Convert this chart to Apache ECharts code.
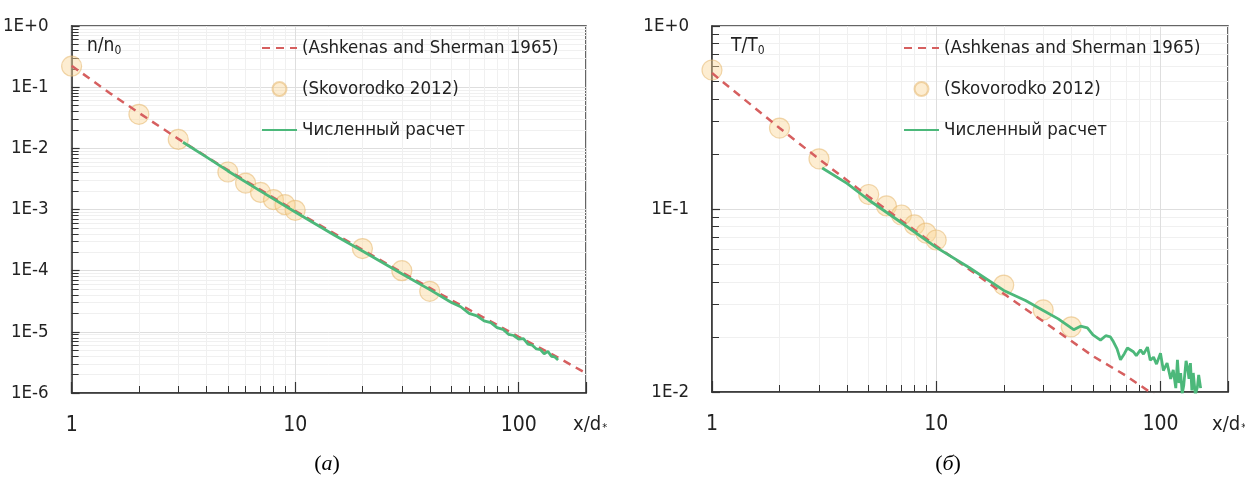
<!DOCTYPE html>
<html>
<head>
<meta charset="utf-8">
<script src="https://cdn.jsdelivr.net/npm/echarts@6/dist/echarts.min.js"></script>
<style>
html, body { margin: 0; padding: 0; background: #fff; }
#chart { width: 1245px; height: 482px; }
</style>
</head>
<body>
<div id="chart"></div>
<script>
// (а) density n/n0 along the jet axis
const nAshX = [1, 1.5, 2, 3, 5, 7, 10, 20, 30, 50, 70, 100, 150, 200]
const nAshY = [0.224, 0.0776, 0.038, 0.0143, 0.0044, 0.0021, 9.5e-4, 2.2e-4, 9.4e-5, 3.3e-5, 1.7e-5, 8.3e-6, 3.8e-6, 2.1e-6]
const nSkoX = [1, 2, 3, 5, 6, 7, 8, 9, 10, 20, 30, 40]
const nSkoY = [0.22, 0.036, 0.014, 0.0041, 0.0027, 0.0019, 0.00145, 0.0012, 0.00097, 0.00023, 1.0e-4, 4.6e-5]
const nNumX = [3.15, 4, 5, 7, 10, 15, 20, 30, 40, 50, 55, 60, 65, 70, 75, 80, 85, 90, 95, 100, 105, 110, 115, 120, 125, 130, 135, 140, 145, 150]
const nNumY = [1.26e-2, 7.24e-3, 4.27e-3, 2.0e-3, 9.12e-4, 3.8e-4, 2.09e-4, 8.91e-5, 4.9e-5, 3.02e-5, 2.57e-5, 2.0e-5, 1.82e-5, 1.51e-5, 1.41e-5, 1.17e-5, 1.1e-5, 9.12e-6, 8.71e-6, 7.59e-6, 7.76e-6, 6.31e-6, 6.03e-6, 5.25e-6, 5.13e-6, 4.37e-6, 4.79e-6, 3.98e-6, 3.89e-6, 3.47e-6]

// (б) temperature T/T0 along the jet axis
const tAshX = [1, 1.5, 2, 3, 5, 7, 10, 20, 30, 50, 70, 100]
const tAshY = [0.553, 0.369, 0.277, 0.1875, 0.1167, 0.0863, 0.0628, 0.0344, 0.0243, 0.0157, 0.0123, 0.00912]
const tSkoX = [1, 2, 3, 5, 6, 7, 8, 9, 10, 20, 30, 40]
const tSkoY = [0.575, 0.277, 0.188, 0.12, 0.104, 0.0927, 0.0818, 0.0739, 0.0677, 0.0384, 0.0281, 0.0227]
const tNumX = [3.1, 4, 5, 7, 10, 14, 20, 25, 30, 35, 41, 44, 47.2, 50, 54, 57, 59.8, 61.7, 64, 66.3, 69, 71.2, 75.7, 78, 81.4, 84, 87.5, 90, 93.1, 96, 100, 103, 107, 111, 114, 117, 119, 121, 123, 125, 127, 130, 132, 134, 136, 138, 140, 143, 146, 148, 151]
const tNumY = [0.1675, 0.138, 0.112, 0.0841, 0.0617, 0.0479, 0.0359, 0.0316, 0.0279, 0.0251, 0.0219, 0.0229, 0.0224, 0.0205, 0.0192, 0.0203, 0.02, 0.0188, 0.0172, 0.015, 0.0162, 0.0174, 0.0166, 0.0158, 0.017, 0.0161, 0.0176, 0.0149, 0.0155, 0.0142, 0.0163, 0.0131, 0.0144, 0.0118, 0.0132, 0.0105, 0.015, 0.0112, 0.0127, 0.0098, 0.0109, 0.0148, 0.0137, 0.0118, 0.0144, 0.0102, 0.0127, 0.0097, 0.0106, 0.0124, 0.0105]

const names = ['(Ashkenas and Sherman 1965)', '(Skovorodko 2012)', 'Численный расчет']
const FONT = "'DejaVu Sans Condensed', 'Liberation Sans Narrow', sans-serif"

const zip = (xs, ys) => xs.map((x, i) => [x, ys[i]])
const isPow10 = v => Math.abs(Math.log10(v) - Math.round(Math.log10(v))) < 1e-6

function xAxisFor (gi) {
  return {
    type: 'log', logBase: 10, gridIndex: gi, min: 1, max: 200,
    axisLine: { show: true, lineStyle: { color: '#333', width: 1.5 } },
    axisTick: { show: true, inside: true, length: 11, lineStyle: { color: '#333', width: 1.2 } },
    minorTick: { show: true, splitNumber: 9, length: 7, lineStyle: { color: '#333', width: 1 } },
    splitLine: { show: true, lineStyle: { color: '#dedede' } },
    minorSplitLine: { show: true, lineStyle: { color: '#f0f0f0' } },
    axisLabel: {
      margin: 22, fontSize: 21, color: '#222', fontFamily: FONT,
      formatter: v => isPow10(v) ? String(Math.round(v)) : ''
    }
  }
}

function yAxisFor (gi, min, split) {
  return {
    type: 'log', logBase: 10, gridIndex: gi, min: min, max: 1, splitNumber: split,
    axisLine: { show: true, lineStyle: { color: '#333', width: 1.5 } },
    axisTick: { show: true, inside: true, length: 8, lineStyle: { color: '#333', width: 1.2 } },
    minorTick: { show: true, splitNumber: 9, length: 7, lineStyle: { color: '#333', width: 1 } },
    splitLine: { show: true, lineStyle: { color: '#dedede' } },
    minorSplitLine: { show: true, lineStyle: { color: '#f0f0f0' } },
    axisLabel: {
      margin: 23, fontSize: 18.5, color: '#222', fontFamily: FONT,
      formatter: v => {
        const e = Math.round(Math.log10(v))
        return '1E' + (e >= 0 ? '+' : '-') + Math.abs(e)
      }
    }
  }
}

function seriesFor (gi, ash, sko, num) {
  return [
    {
      name: names[1], type: 'scatter', xAxisIndex: gi, yAxisIndex: gi, z: 1,
      symbol: 'circle', symbolSize: 20, data: sko,
      itemStyle: { color: 'rgba(250, 214, 150, 0.55)', borderColor: 'rgba(230, 184, 110, 0.7)', borderWidth: 1.2 }
    },
    {
      name: names[0], type: 'line', xAxisIndex: gi, yAxisIndex: gi, z: 3,
      symbol: 'none', data: ash,
      itemStyle: { color: '#d65f5f' },
      lineStyle: { color: '#d65f5f', width: 2.5, type: [8, 6] }
    },
    {
      name: names[2], type: 'line', xAxisIndex: gi, yAxisIndex: gi, z: 4,
      symbol: 'none', data: num,
      itemStyle: { color: '#4cb87a' },
      lineStyle: { color: '#4cb87a', width: 2.8 }
    }
  ]
}

const legendBase = {
  orient: 'vertical', top: 37, itemWidth: 35, itemHeight: 14, itemGap: 19, padding: 0,
  selectedMode: false,
  data: [
    { name: names[0], itemStyle: { opacity: 0 } },
    { name: names[1] },
    { name: names[2], itemStyle: { opacity: 0 } }
  ],
  textStyle: { fontSize: 18.5, color: '#222', fontFamily: FONT, lineHeight: 22 }
}

const labelStyle = {
  fontSize: 19, color: '#222', fontFamily: FONT, fontWeight: 'normal',
  rich: { sub: { fontSize: 12, color: '#222', fontFamily: FONT, padding: [9, 0, 0, 0] },
          s: { fontSize: 11, color: '#222', fontFamily: FONT, padding: [6, 0, 0, 1] } }
}
const axisNameStyle = Object.assign({}, labelStyle, { fontSize: 20 })
const capStyle = {
  fontSize: 22, color: '#000', fontFamily: "'Liberation Serif', serif", fontWeight: 'normal',
  rich: { i: { fontSize: 22, fontStyle: 'italic', color: '#000', fontFamily: "'Liberation Serif', serif" } }
}

const chart = echarts.init(document.getElementById('chart'))
chart.setOption({
  backgroundColor: '#fff',
  animation: false,
  title: [
    { text: 'n/n{sub|0}', left: 87, top: 36, padding: 0, textStyle: labelStyle },
    { text: 'T/T{sub|0}', left: 731, top: 36, padding: 0, textStyle: labelStyle },
    { text: 'x/d{s|*}', left: 573, top: 415, padding: 0, textStyle: axisNameStyle },
    { text: 'x/d{s|*}', left: 1212, top: 415, padding: 0, textStyle: axisNameStyle },
    { text: '({i|а})', left: 327, top: 453, textAlign: 'center', padding: 0, textStyle: capStyle },
    { text: '({i|б})', left: 948, top: 453, textAlign: 'center', padding: 0, textStyle: capStyle }
  ],
  legend: [
    Object.assign({ left: 261 }, legendBase),
    Object.assign({ left: 903 }, legendBase)
  ],
  grid: [
    { left: 70, top: 26, width: 516, height: 367, show: true, borderColor: '#333', borderWidth: 1.5, backgroundColor: '#fff' },
    { left: 712, top: 26, width: 516, height: 366, show: true, borderColor: '#333', borderWidth: 1.5, backgroundColor: '#fff' }
  ],
  xAxis: [xAxisFor(0), xAxisFor(1)],
  yAxis: [yAxisFor(0, 1e-6, 6), yAxisFor(1, 0.01, 2)],
  series: [
    ...seriesFor(0, zip(nAshX, nAshY), zip(nSkoX, nSkoY), zip(nNumX, nNumY)),
    ...seriesFor(1, zip(tAshX, tAshY), zip(tSkoX, tSkoY), zip(tNumX, tNumY))
  ]
})
</script>
</body>
</html>
